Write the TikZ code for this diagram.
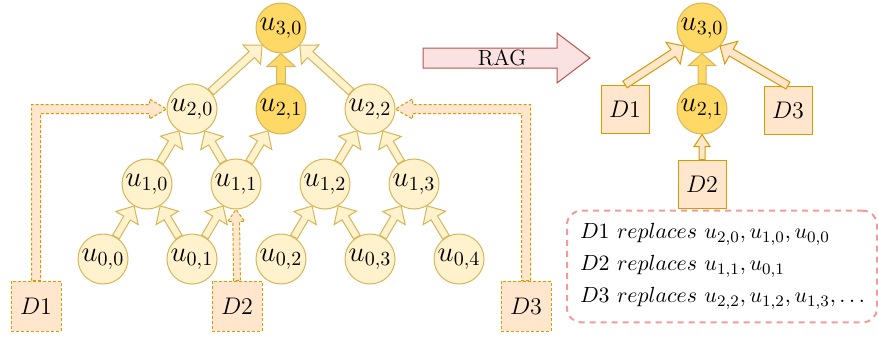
\documentclass[tikz,border=0pt]{standalone}
\usepackage{xcolor}
\usepackage{tikz}
\usetikzlibrary{arrows.meta}
\usetikzlibrary{positioning}
\usetikzlibrary{calc}
\usepackage{amsmath}

\definecolor{ylwfill}{HTML}{FFF2CC}
\definecolor{ylwline}{HTML}{D6B656}
\definecolor{goldfill}{HTML}{FFD966}
\definecolor{orgfill}{HTML}{FFE6CC}
\definecolor{orgline}{HTML}{D79B00}
\definecolor{redfill}{HTML}{F9E2E1}
\definecolor{redline}{HTML}{B85450}
\definecolor{noteline}{HTML}{F19C99}

% hollow block arrow between two nodes:
% style, from, to, half shaft, half head, head length
\newcommand{\fatarrow}[6]{%
  \path (#2) -- (#3) coordinate[pos=0] (fa-s) coordinate[pos=1] (fa-e);
  \coordinate (fa-h) at ($(fa-e)!#6!(fa-s)$);
  \draw[#1] ($(fa-s)!#4!-90:(fa-e)$) -- ($(fa-h)!#4!-90:(fa-e)$)
    -- ($(fa-h)!#5!-90:(fa-e)$) -- (fa-e) -- ($(fa-h)!#5!90:(fa-e)$)
    -- ($(fa-h)!#4!90:(fa-e)$) -- ($(fa-s)!#4!90:(fa-e)$) -- cycle;
}

\begin{document}
\begin{tikzpicture}[x=0.5pt, y=-0.5pt, node distance=44.5pt]
    \tikzstyle{leaf}=[circle, draw=ylwline, fill=ylwfill, minimum size=25pt, inner sep=0pt, line width=0.5pt, font=\fontsize{14}{16}\selectfont]
    \tikzstyle{hot}=[leaf, fill=goldfill]
    \tikzstyle{doc}=[rectangle, draw=orgline, fill=orgfill, minimum size=25pt, inner sep=0pt, line width=0.5pt, dash pattern=on 1.5pt off 1pt, font=\fontsize{13}{15}\selectfont]
    \tikzstyle{docsolid}=[doc, solid, minimum size=24pt]
    \tikzstyle{flowy}=[draw=ylwline, fill=ylwfill, line width=0.5pt]
    \tikzstyle{flowg}=[flowy, fill=goldfill]
    \tikzstyle{flowo}=[draw=orgline, fill=orgfill, line width=0.5pt]
    \tikzstyle{flowod}=[flowo, dash pattern=on 1.5pt off 1pt]
    \tikzstyle{note}=[draw=noteline, line width=1pt, dash pattern=on 3pt off 2.5pt, rounded corners=7pt, inner sep=6.5pt, text width=142pt, minimum height=51.5pt, align=left, font=\fontsize{11}{16}\selectfont]

    \useasboundingbox (0,0) rectangle (878,337);

    % tree
    \node[hot] (u30) at (281,28) {$u_{3,0}$};
    \node[leaf] (u20) at (192,109) {$u_{2,0}$};
    \node[hot] (u21) [right of=u20] {$u_{2,1}$};
    \node[leaf] (u22) [right of=u21] {$u_{2,2}$};
    \node[leaf] (u10) at (147,184) {$u_{1,0}$};
    \node[leaf] (u11) [right of=u10] {$u_{1,1}$};
    \node[leaf] (u12) [right of=u11] {$u_{1,2}$};
    \node[leaf] (u13) [right of=u12] {$u_{1,3}$};
    \node[leaf] (u00) at (103,259) {$u_{0,0}$};
    \node[leaf] (u01) [right of=u00] {$u_{0,1}$};
    \node[leaf] (u02) [right of=u01] {$u_{0,2}$};
    \node[leaf] (u03) [right of=u02] {$u_{0,3}$};
    \node[leaf] (u04) [right of=u03] {$u_{0,4}$};

    \node[doc] (D1) at (36,306) {$D1$};
    \node[doc] (D2) at (237,306) {$D2$};
    \node[doc] (D3) at (526,306) {$D3$};

    \fatarrow{flowy}{u20}{u30}{2pt}{6.5pt}{7pt}
    \fatarrow{flowg}{u21}{u30}{2.2pt}{7pt}{6.5pt}
    \fatarrow{flowy}{u22}{u30}{2pt}{6.5pt}{7pt}
    \foreach \a/\b in {u10/u20, u11/u20, u11/u21, u12/u22, u13/u22,
                       u00/u10, u01/u10, u01/u11, u02/u12, u03/u12, u03/u13, u04/u13}
      \fatarrow{flowy}{\a}{\b}{1.9pt}{6.5pt}{7pt};

    % documents into the tree
    \draw[flowod] ($(D1.north)+(-4.5,0)$) |- ($(u20.west)+(-17,-4.5)$) -- ++(0,-5.5)
      -- (u20.west) -- ++(-17,10) -- ++(0,-5.5) -| ($(D1.north)+(4.5,0)$) -- cycle;
    \draw[flowod] ($(D3.north)+(4.5,0)$) |- ($(u22.east)+(17,-4.5)$) -- ++(0,-5.5)
      -- (u22.east) -- ++(17,10) -- ++(0,-5.5) -| ($(D3.north)+(-4.5,0)$) -- cycle;
    \fatarrow{flowod}{D2.north}{u11.south}{1.7pt}{4.25pt}{6pt}

    % RAG
    \draw[draw=redline, fill=redfill, line width=0.5pt] (423,48) -- (557,48) -- (557,33)
      -- (590,58) -- (557,83) -- (557,68) -- (423,68) -- cycle;
    \node[font=\fontsize{11}{13}\selectfont] (rag) at (502,58) {RAG};

    % retrieved tree
    \node[hot] (r30) at (702,28) {$u_{3,0}$};
    \node[hot] (r21) at (702,109) {$u_{2,1}$};
    \node[docsolid] (rD1) at (625,109) {$D1$};
    \node[docsolid] (rD3) at (788,110) {$D3$};
    \node[docsolid] (rD2) at (702,184) {$D2$};

    \fatarrow{flowo}{rD1.north}{r30.south west}{2pt}{6.5pt}{6.5pt}
    \fatarrow{flowo}{rD3.north}{r30.south east}{2pt}{6.5pt}{6.5pt}
    \fatarrow{flowg}{r21}{r30}{2pt}{6.75pt}{6pt}
    \fatarrow{flowo}{rD2}{r21}{1.5pt}{4pt}{6pt}

    \node[note] (legend) at (722,266.5) {$D1\ replaces\ u_{2,0}, u_{1,0}, u_{0,0}$\\
      $D2\ replaces\ u_{1,1}, u_{0,1}$\\
      $D3\ replaces\ u_{2,2}, u_{1,2}, u_{1,3}, \ldots$};
\end{tikzpicture}
\end{document}
